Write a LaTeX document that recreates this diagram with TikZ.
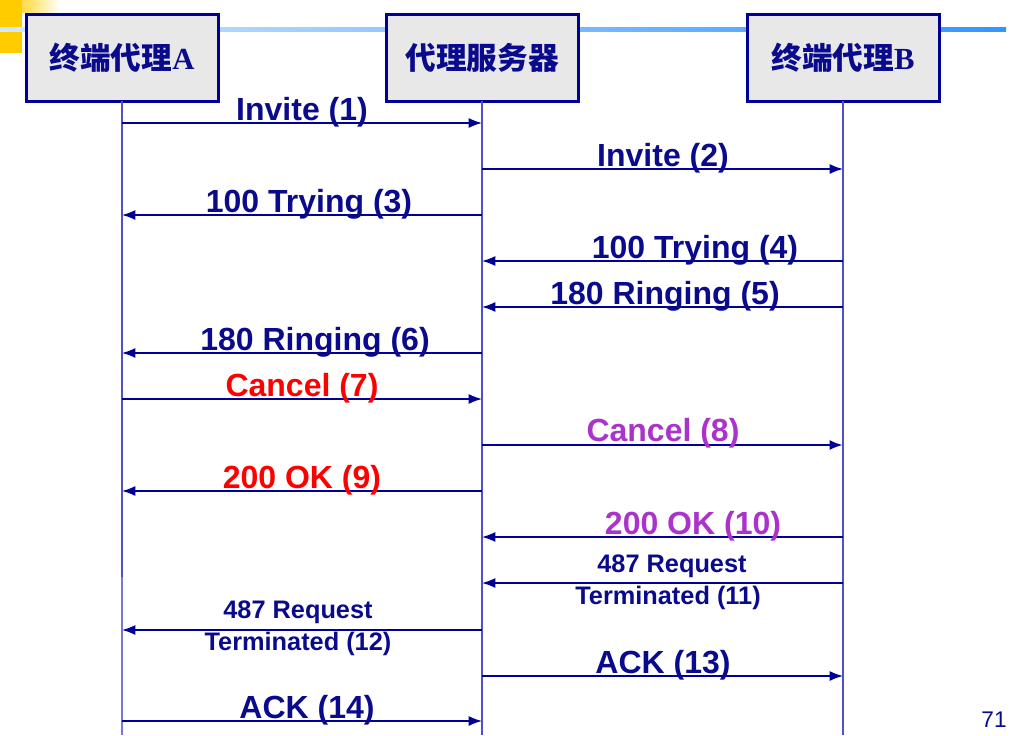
\documentclass[tikz,border=0pt]{standalone}
\usepackage{fontspec}
\setmainfont{Liberation Sans}
\newfontfamily\cjk{Noto Sans CJK SC}
\newfontfamily\serifA{Liberation Serif}
\usetikzlibrary{arrows.meta}
\definecolor{sipblue}{RGB}{10,10,140}
\definecolor{linecol}{RGB}{0,0,150}
\definecolor{lifecol}{RGB}{80,80,200}
\definecolor{lifepale}{RGB}{120,120,210}
\definecolor{boxfill}{RGB}{232,232,232}
\definecolor{cancelred}{RGB}{255,0,0}
\definecolor{cancelpurple}{RGB}{170,51,204}
\definecolor{barleft}{RGB}{210,232,255}
\definecolor{barright}{RGB}{51,150,255}
\definecolor{corner}{RGB}{255,204,0}
\begin{document}
\begin{tikzpicture}[x=0.75pt,y=-0.75pt,
  every node/.style={inner sep=0pt, outer sep=0pt},
  party/.style={draw=linecol, line width=2.25pt, fill=boxfill, minimum width=144pt, minimum height=64.5pt, font=\cjk\bfseries\fontsize{23}{25}\selectfont, text=sipblue},
  life/.style={draw=lifecol, line width=1pt},
  msg/.style={draw=linecol, line width=1.1pt, -{Latex[length=10pt,width=7.5pt]}},
  lbl/.style={anchor=base, font=\bfseries\fontsize{24}{26}\selectfont, text=sipblue},
  small/.style={anchor=base, font=\bfseries\fontsize{19}{21}\selectfont, text=sipblue}]
\useasboundingbox (0,0) rectangle (1024,735);
% slide decoration
\shade[left color=corner, right color=white, middle color=corner!60] (0,0) rectangle (60,13);
\fill[corner] (0,0) rectangle (22,53);
\shade[left color=barleft, right color=barright] (0,27.5) rectangle (1006,32);
% parties
\node[party] (boxA) at (122,58) {终端代理{\serifA\bfseries A}};
\node[party] (boxP) at (482,58) {代理服务器};
\node[party] (boxB) at (843,58) {终端代理{\serifA\bfseries B}};
\coordinate (breakA) at (122,577);
\coordinate (endA) at (122,735);
\coordinate (endP) at (482,735);
\coordinate (endB) at (843,735);
\draw[life] (boxA.south) -- (breakA);
\draw[life, draw=lifepale] (breakA) -- (endA);
\draw[life] (boxP.south) -- (endP);
\draw[life] (boxB.south) -- (endB);
% message points
\foreach \i/\y in {1/123,2/169,3/215,4/261,5/307,6/353,7/399,8/445,9/491,10/537,11/583,12/630,13/676,14/721}
{
  \coordinate (A\i) at (boxA |- 0,\y);
  \coordinate (P\i) at (boxP |- 0,\y);
  \coordinate (B\i) at (boxB |- 0,\y);
}
% messages
\draw[msg] (A1) -- (P1);
\node[lbl] (m1) at (302,120) {Invite (1)};
\draw[msg] (P2) -- (B2);
\node[lbl] (m2) at (663,166) {Invite (2)};
\draw[msg] (P3) -- (A3);
\node[lbl] (m3) at (309,212) {100 Trying (3)};
\draw[msg] (B4) -- (P4);
\node[lbl] (m4) at (695,258) {100 Trying (4)};
\draw[msg] (B5) -- (P5);
\node[lbl] (m5) at (665,304) {180 Ringing (5)};
\draw[msg] (P6) -- (A6);
\node[lbl] (m6) at (315,350) {180 Ringing (6)};
\draw[msg] (A7) -- (P7);
\node[lbl, text=cancelred] (m7) at (302,396) {Cancel (7)};
\draw[msg, line width=1.9pt] (P8) -- (B8);
\node[lbl, text=cancelpurple] (m8) at (663,441) {Cancel (8)};
\draw[msg] (P9) -- (A9);
\node[lbl, text=cancelred] (m9) at (302,488) {200 OK (9)};
\draw[msg] (B10) -- (P10);
\node[lbl, text=cancelpurple] (m10) at (693,534) {200 OK (10)};
\draw[msg] (B11) -- (P11);
\node[small] (m11a) at (672,572) {487 Request};
\node[small] (m11b) at (668,604) {Terminated (11)};
\draw[msg] (P12) -- (A12);
\node[small] (m12a) at (298,618) {487 Request};
\node[small] (m12b) at (298,650) {Terminated (12)};
\draw[msg] (P13) -- (B13);
\node[lbl] (m13) at (663,673) {ACK (13)};
\draw[msg] (A14) -- (P14);
\node[lbl] (m14) at (307,718) {ACK (14)};
% page number
\node[anchor=base, font=\fontsize{17}{19}\selectfont, text=sipblue] (page) at (994,727) {71};
\end{tikzpicture}
\end{document}
